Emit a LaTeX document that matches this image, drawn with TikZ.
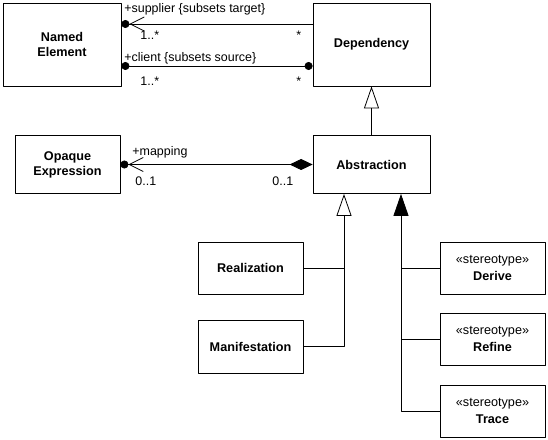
\documentclass[tikz,border=0pt]{standalone}
\usepackage{fontspec}
\setmainfont{Liberation Sans}
\usetikzlibrary{arrows.meta}
\begin{document}
\begin{tikzpicture}[>=latex,line join=bevel,line width=0.8bp,
  classbox/.style={draw,align=center,inner sep=0pt,font=\fontsize{12.7}{15}\selectfont\bfseries},
  rolelabel/.style={anchor=base west,inner sep=0pt,font=\fontsize{12.5}{15}\selectfont},
  navend/.style={-{Straight Barb[length=14bp,width=14bp]Circle[length=8bp]}},
  compnav/.style={{Diamond[length=23bp,width=11bp]}-{Straight Barb[length=14bp,width=14bp]Circle[length=8bp]}},
  gen/.style={-{Triangle[open,length=22bp,width=15bp]}},
  genfilled/.style={-{Triangle[length=22bp,width=15bp]}},
]
\useasboundingbox (0bp,0bp) rectangle (548bp,440bp);
%%
\node (node_named) at (62bp,395.5bp) [classbox,minimum width=118bp,minimum height=83bp] {Named\\Element};
  \node (node_dep) at (371.5bp,395.5bp) [classbox,minimum width=117bp,minimum height=83bp] {Dependency};
  \node (node_opaque) at (67.5bp,275.5bp) [classbox,minimum width=105bp,minimum height=58bp] {Opaque\\Expression};
  \node (node_abs) at (371.5bp,275.5bp) [classbox,minimum width=117bp,minimum height=58bp] {Abstraction};
  \node (node_real) at (250.5bp,172bp) [classbox,minimum width=105bp,minimum height=52bp] {Realization};
  \node (node_manif) at (250.5bp,93.5bp) [classbox,minimum width=105bp,minimum height=53bp] {Manifestation};
  \node (node_derive) at (492.5bp,172bp) [classbox,minimum width=105bp,minimum height=52bp] {\textmd{«stereotype»}\\[2bp]Derive};
  \node (node_refine) at (492.5bp,101bp) [classbox,minimum width=105bp,minimum height=52bp] {\textmd{«stereotype»}\\[2bp]Refine};
  \node (node_trace) at (492.5bp,29bp) [classbox,minimum width=105bp,minimum height=52bp] {\textmd{«stereotype»}\\[2bp]Trace};
%
  \draw [navend] ([yshift=20.5bp]node_dep.west) -- ([yshift=20.5bp]node_named.east);
  \draw [{Circle[length=8bp]}-{Circle[length=8bp]}] ([yshift=-21.5bp]node_named.east) -- ([yshift=-21.5bp]node_dep.west);
  \draw [compnav] (node_abs.west) -- (node_opaque.east);
  \draw [gen] (node_abs.north) -- (node_dep.south);
%
  \coordinate (gen_left) at ([xshift=-27.5bp]node_abs.south);
  \coordinate (gen_right) at ([xshift=29.5bp]node_abs.south);
  \draw [gen] (node_manif.east) -| (gen_left);
  \draw (node_real.east) -- (node_real.east -| gen_left);
  \draw [genfilled] (node_trace.west) -| (gen_right);
  \draw (node_derive.west) -- (node_derive.west -| gen_right);
  \draw (node_refine.west) -- (node_refine.west -| gen_right);
%
  \node (lbl_supplier) at (124bp,427bp) [rolelabel] {+supplier \{subsets target\}};
  \node (lbl_supplier_m) at (140bp,400bp) [rolelabel] {1..*};
  \node (lbl_dep_m1) at (296bp,400bp) [rolelabel] {*};
  \node (lbl_client) at (124bp,378bp) [rolelabel] {+client \{subsets source\}};
  \node (lbl_client_m) at (140bp,354bp) [rolelabel] {1..*};
  \node (lbl_dep_m2) at (296bp,354bp) [rolelabel] {*};
  \node (lbl_mapping) at (132bp,284bp) [rolelabel] {+mapping};
  \node (lbl_mapping_m) at (135bp,254bp) [rolelabel] {0..1};
  \node (lbl_abs_m) at (272bp,254bp) [rolelabel] {0..1};
%
\end{tikzpicture}
\end{document}
